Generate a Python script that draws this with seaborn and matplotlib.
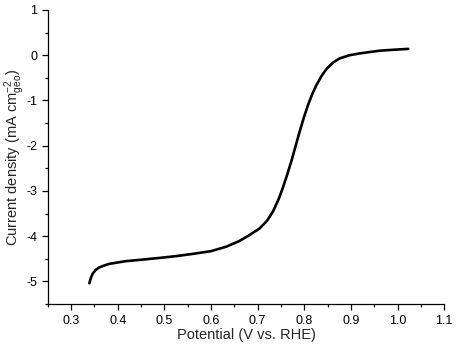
import matplotlib
matplotlib.use("Agg")
import matplotlib.pyplot as plt
from matplotlib.ticker import MultipleLocator
import seaborn as sns
import pandas as pd

# Polarization curve: potential (V vs. RHE) and current density (mA cm^-2_geo)
potential = [0.339, 0.342, 0.346, 0.352, 0.360, 0.370, 0.382, 0.400, 0.418, 0.450,
             0.489, 0.525, 0.561, 0.600, 0.633, 0.660, 0.680, 0.704, 0.720, 0.733,
             0.745, 0.754, 0.763, 0.772, 0.781, 0.790, 0.799, 0.808, 0.817, 0.826,
             0.837, 0.848, 0.862, 0.876, 0.897, 0.919, 0.940, 0.962, 0.990, 1.023]
current = [-5.04, -4.93, -4.83, -4.75, -4.69, -4.65, -4.61, -4.58, -4.55, -4.52,
           -4.48, -4.44, -4.39, -4.33, -4.23, -4.11, -3.99, -3.83, -3.66, -3.45,
           -3.18, -2.93, -2.65, -2.35, -2.02, -1.69, -1.38, -1.10, -0.86, -0.66,
           -0.46, -0.30, -0.16, -0.07, 0.00, 0.04, 0.07, 0.10, 0.12, 0.14]

df = pd.DataFrame({"potential": potential, "current": current})

sns.set_theme(style="ticks")
plt.rcParams["font.family"] = ["Liberation Sans", "DejaVu Sans"]
plt.rcParams["mathtext.fontset"] = "custom"
plt.rcParams["mathtext.rm"] = "Liberation Sans"
plt.rcParams["mathtext.it"] = "Liberation Sans"

fig = plt.figure(figsize=(4.74, 3.44), dpi=100)
ax = fig.add_axes([0.101, 0.116, 0.836, 0.855])

sns.lineplot(data=df, x="potential", y="current", ax=ax, color="black",
             linewidth=1.9, sort=False)

ax.set_xlim(0.25, 1.1)
ax.set_ylim(-5.5, 1.0)
ax.xaxis.set_minor_locator(MultipleLocator(0.05))
ax.yaxis.set_minor_locator(MultipleLocator(0.5))
ax.set_xticks([0.3, 0.4, 0.5, 0.6, 0.7, 0.8, 0.9, 1.0, 1.1])
ax.set_xticklabels(["0.3", "0.4", "0.5", "0.6", "0.7", "0.8", "0.9", "1.0", "1.1"])
ax.set_yticks([-5, -4, -3, -2, -1, 0, 1])
ax.set_yticklabels(["-5", "-4", "-3", "-2", "-1", "0", "1"])

ax.tick_params(axis="both", which="major", direction="out", length=4.5, width=0.9,
               labelsize=9, colors="black", pad=3)
ax.tick_params(axis="both", which="minor", direction="out", length=2.5, width=0.9,
               colors="black")

sns.despine(ax=ax)
for side in ("left", "bottom"):
    ax.spines[side].set_linewidth(0.9)
    ax.spines[side].set_color("black")

ax.set_xlabel("Potential (V vs. RHE)", fontsize=10.5, labelpad=1)
ax.set_ylabel(r"Current density (mA cm$^{\mathregular{-2}}_{\mathregular{geo}}$)",
              fontsize=10.5)
ax.yaxis.set_label_coords(-0.052, 0.5)

fig.savefig("out.png", dpi=100, facecolor="white")
